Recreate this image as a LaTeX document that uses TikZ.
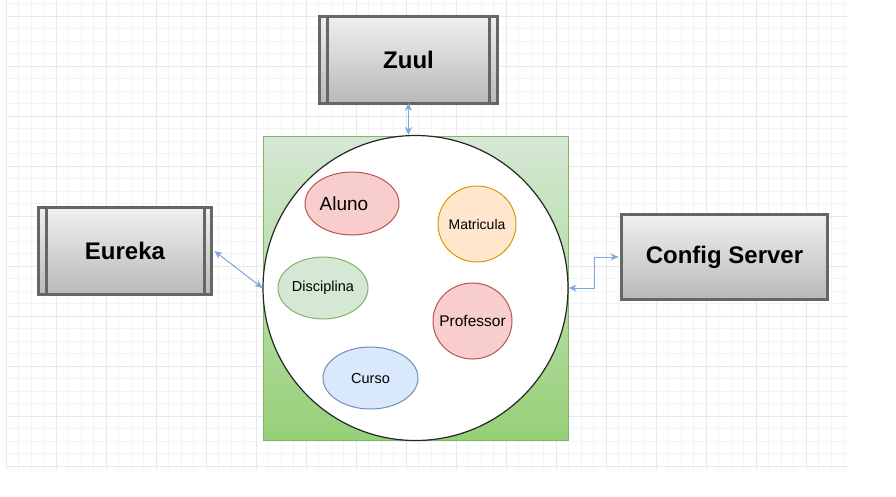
\documentclass[tikz,border=0pt]{standalone}
\usepackage{fontspec}
\setmainfont{Liberation Sans}
\usepackage{xcolor}
\usetikzlibrary{arrows.meta}
\usetikzlibrary{shapes.geometric}

\definecolor{gridminor}{HTML}{F4F4F4}
\definecolor{gridmajor}{HTML}{E8E8E8}
\definecolor{boxline}{HTML}{666666}
\definecolor{linkblue}{HTML}{7EA6E0}
\definecolor{redfill}{HTML}{F8CECC}
\definecolor{redline}{HTML}{B85450}
\definecolor{orangefill}{HTML}{FFE6CC}
\definecolor{orangeline}{HTML}{D79B00}
\definecolor{greenfill}{HTML}{D5E8D4}
\definecolor{greenline}{HTML}{82B366}
\definecolor{greendark}{HTML}{97D077}
\definecolor{bluefill}{HTML}{DAE8FC}
\definecolor{blueline}{HTML}{6C8EBF}

\begin{document}
\begin{tikzpicture}[x=1pt,y=-1pt,
    service/.style={draw=boxline,line width=3pt,top color=gray!12,bottom color=gray!55,
        font=\fontsize{24}{28}\selectfont\bfseries},
    entity/.style={ellipse,line width=1pt,inner sep=0pt},
    link/.style={linkblue,line width=1pt,
        {Stealth[length=8pt,width=7pt]}-{Stealth[length=8pt,width=7pt]}}]
		\useasboundingbox (0,0) rectangle (896,496);
		% background grid
		\foreach \i in {0,...,67}
			\draw[gridminor,line width=0.8pt] (6+12.5*\i,0) -- (6+12.5*\i,470);
		\foreach \j in {0,...,37}
			\draw[gridminor,line width=0.8pt] (6,3.5+12.5*\j) -- (848,3.5+12.5*\j);
		\foreach \i in {0,...,16}
			\draw[gridmajor,line width=1pt] (6+50*\i,0) -- (6+50*\i,470);
		\foreach \j in {0,...,9}
			\draw[gridmajor,line width=1pt] (6,16+50*\j) -- (848,16+50*\j);

		% services
		\node[service,minimum width=178pt,minimum height=87pt] (zuul) at (408.5,59.5) {Zuul};
		\draw[boxline,line width=3pt] ([xshift=9.5pt]zuul.north west) -- ([xshift=9.5pt]zuul.south west);
		\draw[boxline,line width=3pt] ([xshift=-9.5pt]zuul.north east) -- ([xshift=-9.5pt]zuul.south east);

		\node[service,minimum width=173pt,minimum height=87pt] (eureka) at (125,251) {Eureka};
		\draw[boxline,line width=3pt] ([xshift=9pt]eureka.north west) -- ([xshift=9pt]eureka.south west);
		\draw[boxline,line width=3pt] ([xshift=-9pt]eureka.north east) -- ([xshift=-9pt]eureka.south east);

		\node[service,minimum width=206pt,minimum height=85pt] (config) at (724.5,257) {Config Server};

		% microservice container
		\node[draw=greenline,line width=1pt,top color=greenfill,bottom color=greendark,
			minimum width=305pt,minimum height=304pt] (area) at (415.5,288) {};
		\node[circle,draw=black!85,line width=1.2pt,fill=white,minimum size=305pt] (core) at (415.5,288) {};

		% entities
		\node[entity,fill=redfill,draw=redline,minimum width=94pt,minimum height=63pt,
			label={[font=\fontsize{19}{22}\selectfont,xshift=-8pt]center:Aluno}] (aluno) at (352,203.5) {};
		\node[entity,fill=orangefill,draw=orangeline,minimum width=78pt,minimum height=76pt,
			label={[font=\fontsize{14}{17}\selectfont]center:Matricula}] (matricula) at (477,224) {};
		\node[entity,fill=greenfill,draw=greenline,minimum width=90pt,minimum height=62pt,
			label={[font=\fontsize{14.5}{17}\selectfont]center:Disciplina}] (disciplina) at (323,288) {};
		\node[entity,fill=redfill,draw=redline,minimum width=79pt,minimum height=76pt,
			label={[font=\fontsize{15.5}{18}\selectfont]center:Professor}] (professor) at (472.5,321) {};
		\node[entity,fill=bluefill,draw=blueline,minimum width=95pt,minimum height=62pt,
			label={[font=\fontsize{14.5}{17}\selectfont]center:Curso}] (curso) at (370.5,378) {};

		% connectors
		\draw[link] ([yshift=1.5pt]zuul.south) -- (zuul.south |- core.north);
		\draw[link] ([xshift=1.5pt]eureka.east) -- (core.west);
		\draw[link] (core.east) -- ++(26,0) |- ([xshift=-1.5pt]config.west);
\end{tikzpicture}
\end{document}
